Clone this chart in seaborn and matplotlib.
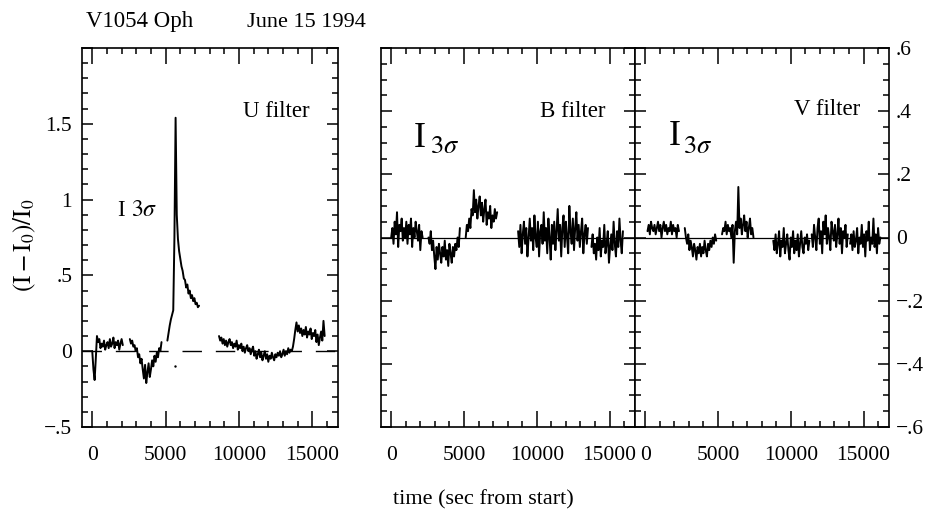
import numpy as np
import matplotlib
matplotlib.use("Agg")
import matplotlib.pyplot as plt
import matplotlib.ticker as mticker
import seaborn as sns

sns.set_style("ticks")
plt.rcParams["font.family"] = ["Liberation Serif", "DejaVu Serif"]
plt.rcParams["mathtext.fontset"] = "stix"
plt.rcParams["text.color"] = "black"
plt.rcParams["xtick.color"] = "black"
plt.rcParams["ytick.color"] = "black"
plt.rcParams["xtick.labelcolor"] = "black"
plt.rcParams["ytick.labelcolor"] = "black"

STEP = 80  # seconds between samples

# ── U filter (I-I0)/I0, one list per observing segment ───────────────────────
U_SEG1_START = 0
U_SEG1 = [0.0, -0.12, -0.19, -0.05, 0.10, 0.06, 0.08, 0.02, 0.05, 0.03, 0.07, 0.01, 0.04, 0.06,
          0.02, 0.08, 0.03, 0.05, 0.09, 0.02, 0.06, 0.04, 0.07, 0.01, 0.05, 0.08, 0.04]
U_SEG2_START = 2560
U_SEG2 = [0.08, 0.05, 0.07, 0.03, 0.04, 0.0, 0.02, -0.04, -0.02, -0.08, -0.05, -0.12, -0.18, -0.09,
          -0.21, -0.14, -0.08, -0.17, -0.12, -0.06, -0.10, -0.03, -0.07, -0.01, -0.04, 0.02, 0.0, 0.06]
U_SEG3_START = 5120
U_SEG3 = [0.07, 0.12, 0.17, 0.21, 0.24, 0.27, 0.75, 1.54, 0.90, 0.74, 0.66, 0.61, 0.56, 0.53,
          0.48, 0.47, 0.42, 0.44, 0.38, 0.40, 0.35, 0.37, 0.33, 0.35, 0.31, 0.32, 0.29, 0.30]
U_SEG4_START = 8640
U_SEG4 = [0.10, 0.07, 0.09, 0.05, 0.08, 0.04, 0.07, 0.03, 0.06, 0.08,
          0.04, 0.06, 0.02, 0.05, 0.03, 0.07, 0.01, 0.04, 0.02, 0.05,
          0.00, 0.03, -0.01, 0.02, 0.04, 0.00, 0.02, -0.02, 0.01, 0.03,
          -0.03, 0.00, -0.05, -0.02, 0.01, -0.04, -0.01, -0.06, -0.03, 0.00,
          -0.05, -0.02, -0.07, -0.03, -0.05, -0.01, -0.04, -0.06, -0.02, -0.04,
          -0.01, -0.03, 0.00, -0.04, -0.02, 0.01, -0.03, 0.00, -0.02, 0.02,
          -0.01, 0.01, 0.00, 0.03, 0.08, 0.14, 0.19, 0.13, 0.17, 0.12,
          0.15, 0.10, 0.14, 0.11, 0.16, 0.09, 0.13, 0.11, 0.15, 0.08,
          0.12, 0.10, 0.14, 0.06, 0.11, 0.04, 0.09, 0.13, 0.07, 0.20,
          0.10]
U_DOT_T = [5660]
U_DOT_V = [-0.10]

# ── B filter ─────────────────────────────────────────────────────────────────
B_SEG1_START = 0
B_SEG1 = [0.0, 0.03, -0.02, 0.05, 0.01, 0.08, -0.03, 0.04, 0.02, 0.06, -0.01, 0.03, 0.0, 0.05,
          -0.02, 0.04, 0.01, 0.06, -0.03, 0.03, 0.0, 0.05, 0.02, -0.01, 0.04, -0.04, 0.02, 0.0]
B_SEG2_START = 2560
B_SEG2 = [0.0, -0.02, 0.02, -0.04, -0.01, -0.06, -0.10, -0.03, -0.07, -0.02, -0.05, -0.08, -0.03, -0.06,
          -0.01, -0.07, -0.04, -0.09, -0.02, -0.05, -0.08, -0.03, -0.06, -0.02, -0.04, 0.0, -0.03, 0.03]
B_SEG3_START = 5120
B_SEG3 = [0.0, 0.04, 0.02, 0.06, 0.03, 0.09, 0.07, 0.15, 0.08, 0.12, 0.06, 0.10, 0.13, 0.07,
          0.11, 0.05, 0.09, 0.12, 0.04, 0.08, 0.06, 0.10, 0.03, 0.07, 0.05, 0.09, 0.06, 0.08]
B_SEG4_START = 8720
B_SEG4 = [0.02, -0.03, 0.04, -0.05, 0.01, 0.05, -0.02, 0.03, -0.06, 0.0,
          0.06, -0.01, 0.03, -0.04, 0.07, 0.0, -0.03, 0.05, -0.06, 0.02,
          0.04, -0.02, 0.08, -0.01, 0.03, -0.05, 0.06, 0.0, -0.07, 0.04,
          -0.02, 0.05, -0.04, 0.02, 0.09, -0.01, 0.04, -0.06, 0.03, 0.07,
          -0.03, 0.05, 0.0, -0.05, 0.10, 0.02, -0.02, 0.06, -0.04, 0.03,
          0.08, -0.01, 0.04, -0.03, 0.02, 0.06, -0.05, 0.01, 0.04, -0.02,
          0.03]
B_SEG5_START = 13760
B_SEG5 = [-0.03, 0.01, -0.05, -0.02, -0.07, 0.0, -0.04, 0.03, -0.06, -0.01, -0.03, 0.04, -0.05, -0.02,
          0.02, -0.08, -0.03, 0.01, -0.04, 0.05, -0.02, -0.06, 0.02, -0.03, 0.06, -0.01, -0.05, 0.02]

# ── V filter ─────────────────────────────────────────────────────────────────
V_SEG1_START = 160
V_SEG1 = [0.02, 0.04, 0.01, 0.05, 0.03, 0.02, 0.04, 0.01, 0.03, 0.05, 0.02, 0.04, 0.0, 0.03,
          0.05, 0.02, 0.04, 0.01, 0.03, 0.02, 0.05, 0.01, 0.04, 0.02, 0.03, 0.0, 0.04, 0.02]
V_SEG2_START = 2720
V_SEG2 = [0.03, 0.0, -0.02, 0.01, -0.04, -0.01, -0.03, -0.06, -0.02, -0.04, -0.07, -0.03, -0.05, -0.02,
          -0.06, -0.03, -0.05, -0.01, -0.04, -0.06, -0.02, -0.04, -0.01, -0.03, 0.0, -0.02, 0.01, -0.01]
V_SEG3_START = 5280
V_SEG3 = [0.01, 0.03, 0.02, 0.05, 0.01, 0.04, 0.02, 0.03, 0.0, 0.04, -0.08, 0.02, 0.05, 0.01,
          0.16, 0.03, 0.06, 0.01, 0.04, 0.07, 0.02, 0.05, 0.0, 0.03, 0.06, 0.01, 0.03, 0.0]
V_SEG4_START = 8800
V_SEG4 = [-0.01, -0.04, 0.01, -0.05, -0.02, 0.02, -0.06, -0.01, -0.03, 0.03, -0.05, -0.02, 0.01, -0.04,
          -0.07, 0.0, -0.03, 0.02, -0.05, -0.01, -0.04, 0.01, -0.06, -0.02, 0.02, -0.03, -0.05, 0.0,
          -0.02, 0.01, -0.04, -0.01]
V_SEG5_START = 11440
V_SEG5 = [0.01, -0.03, 0.04, 0.0, -0.04, 0.03, 0.06, -0.02, 0.02, -0.05, 0.05, 0.01, 0.07, -0.02,
          0.03, 0.0, -0.04, 0.05, 0.02, -0.01, 0.04, -0.03, 0.01, 0.06, -0.02, 0.03, -0.05, 0.02,
          0.0, 0.04, -0.03, 0.01]
V_SEG6_START = 14080
V_SEG6 = [-0.02, 0.01, -0.04, 0.02, -0.03, -0.01, 0.03, -0.05, 0.0, -0.02, 0.04, -0.03, 0.01, -0.06,
          0.02, -0.01, 0.05, -0.04, 0.0, -0.02, 0.06, -0.03, 0.01, -0.05, 0.03, -0.02, 0.0]

XLIM = (-700, 16750)
U_LABEL_MAX = 1.5  # no label on the top tick of the U panel


def strip_zero(v, pos):
    s = f"{v:.2f}".rstrip("0").rstrip(".")
    if s in ("-0", ""):
        s = "0"
    s = s.replace("0.", ".", 1) if s.lstrip("-").startswith("0.") else s
    return s.replace("-", "\u2212")


def u_label(v, pos):
    return "" if v > U_LABEL_MAX + 1e-6 else strip_zero(v, pos)


def style_axis(ax, ymajor, yminor, fmt=strip_zero):
    ax.set_xlim(*XLIM)
    ax.xaxis.set_major_locator(mticker.MultipleLocator(5000))
    ax.xaxis.set_minor_locator(mticker.MultipleLocator(1000))
    ax.yaxis.set_major_locator(mticker.MultipleLocator(ymajor))
    ax.yaxis.set_minor_locator(mticker.MultipleLocator(yminor))
    ax.yaxis.set_major_formatter(mticker.FuncFormatter(fmt))
    ax.tick_params(which="both", direction="in", top=True, right=True,
                   width=1.1, color="black", labelcolor="black", labelsize=15.5)
    ax.tick_params(axis="x", which="major", length=11.5, pad=14)
    ax.tick_params(axis="x", which="minor", length=4.5)
    ax.tick_params(axis="y", which="major", length=8)
    ax.tick_params(axis="y", which="minor", length=4)
    for sp in ax.spines.values():
        sp.set_linewidth(1.2)
        sp.set_color("black")
    ax.set_xlabel("")
    ax.set_ylabel("")


def draw(ax, segments):
    for start, vals in segments:
        t = start + STEP * np.arange(len(vals))
        sns.lineplot(x=t, y=vals, ax=ax, color="black", linewidth=1.4,
                     estimator=None, sort=False)


fig = plt.figure(figsize=(9.36, 5.17), dpi=100)
bot = 1 - 427 / 517
hgt = 379 / 517
ax_u = fig.add_axes([82 / 936, bot, 256 / 936, hgt])
ax_b = fig.add_axes([381 / 936, bot, 254 / 936, hgt])
ax_v = fig.add_axes([635 / 936, bot, 254 / 936, hgt])

# U panel
ax_u.axhline(0, color="black", linewidth=1.0, dashes=(14, 10))
draw(ax_u, [(U_SEG1_START, U_SEG1), (U_SEG2_START, U_SEG2),
            (U_SEG3_START, U_SEG3), (U_SEG4_START, U_SEG4)])
sns.scatterplot(x=U_DOT_T, y=U_DOT_V, ax=ax_u, color="black", s=3, linewidth=0)
ax_u.set_ylim(-0.5, 2.0)
style_axis(ax_u, 0.5, 0.1, fmt=u_label)
ax_u.tick_params(axis="y", pad=7)
ax_u.text(0.152, 0.556, "I", transform=ax_u.transAxes, ha="center",
          va="baseline", fontsize=16.5)
ax_u.text(0.192, 0.556, r"$3\sigma$", transform=ax_u.transAxes, ha="left",
          va="baseline", fontsize=17)
ax_u.text(0.891, 0.818, "U filter", transform=ax_u.transAxes, ha="right",
          va="baseline", fontsize=16.5)

# B panel
ax_b.axhline(0, color="black", linewidth=0.9)
draw(ax_b, [(B_SEG1_START, B_SEG1), (B_SEG2_START, B_SEG2), (B_SEG3_START, B_SEG3),
            (B_SEG4_START, B_SEG4), (B_SEG5_START, B_SEG5)])
ax_b.set_ylim(-0.6, 0.6)
style_axis(ax_b, 0.2, 0.05)
ax_b.tick_params(axis="y", labelleft=False)
ax_b.text(0.154, 0.739, "I", transform=ax_b.transAxes, ha="center",
          va="baseline", fontsize=26)
ax_b.text(0.193, 0.723, r"$3\sigma$", transform=ax_b.transAxes, ha="left",
          va="baseline", fontsize=19)
ax_b.text(0.882, 0.818, "B filter", transform=ax_b.transAxes, ha="right",
          va="baseline", fontsize=16.5)

# V panel
ax_v.axhline(0, color="black", linewidth=0.9)
draw(ax_v, [(V_SEG1_START, V_SEG1), (V_SEG2_START, V_SEG2), (V_SEG3_START, V_SEG3),
            (V_SEG4_START, V_SEG4), (V_SEG5_START, V_SEG5), (V_SEG6_START, V_SEG6)])
ax_v.set_ylim(-0.6, 0.6)
style_axis(ax_v, 0.2, 0.05)
ax_v.tick_params(axis="y", labelleft=False, labelright=True, pad=5)
ax_v.text(0.157, 0.744, "I", transform=ax_v.transAxes, ha="center",
          va="baseline", fontsize=26)
ax_v.text(0.189, 0.723, r"$3\sigma$", transform=ax_v.transAxes, ha="left",
          va="baseline", fontsize=19)
ax_v.text(0.886, 0.823, "V filter", transform=ax_v.transAxes, ha="right",
          va="baseline", fontsize=16.5)

# figure-level labels
fig.text(86 / 936, 1 - 27 / 517, "V1054 Oph", fontsize=16.5, va="baseline")
fig.text(247 / 936, 1 - 27 / 517, "June 15 1994", fontsize=16, va="baseline")
fig.text(25 / 936, 1 - 245 / 517, r"$(\mathrm{I}-\mathrm{I}_0)/\mathrm{I}_0$",
         rotation=90, ha="center", va="center", fontsize=18)
fig.text(483 / 936, 1 - 500 / 517, "time (sec from start)", ha="center",
         va="center", fontsize=16)

fig.savefig("out.png", dpi=100)
